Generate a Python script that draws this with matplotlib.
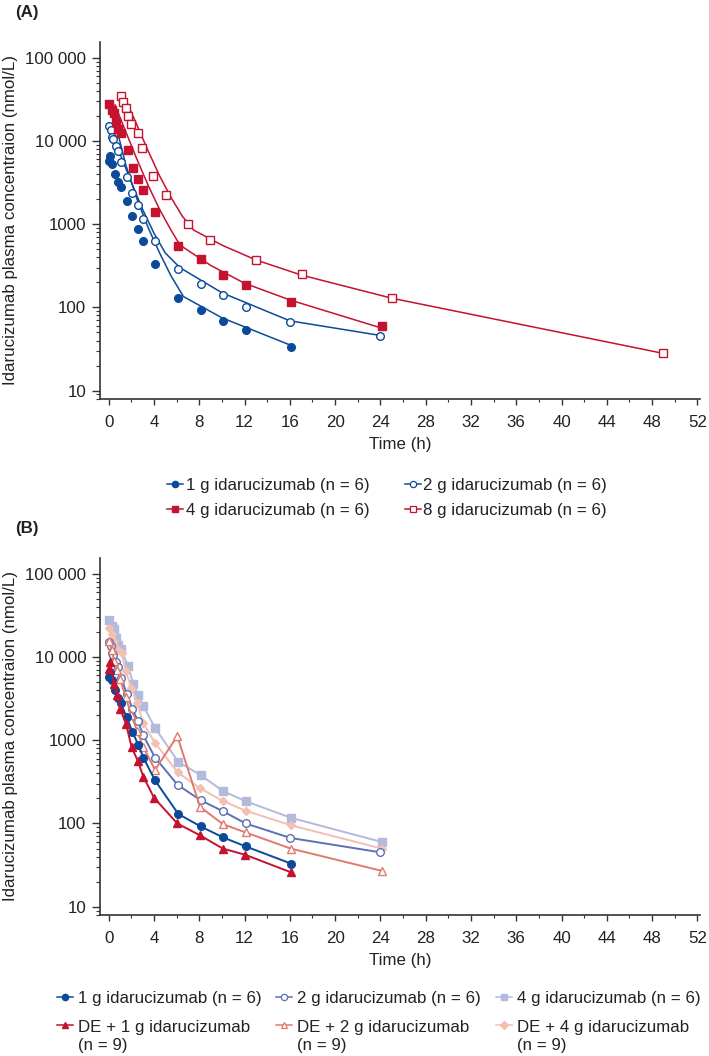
import numpy as np
import matplotlib
matplotlib.use('Agg')
import matplotlib.pyplot as plt
from matplotlib.ticker import LogLocator, FixedLocator, MultipleLocator, NullFormatter
from matplotlib.legend_handler import HandlerLine2D

plt.rcParams['font.family'] = ['Liberation Sans', 'DejaVu Sans']
plt.rcParams['font.size'] = 12.2

DARK = '#0b4a9a'
RED = '#c41230'
TXT = '#222222'

# observed means (nmol/L), panel A and non-DE groups of panel B
t1 = [0.05, 0.12, 0.3, 0.56, 0.8, 1.06, 1.59, 2.09, 2.62, 3.06, 4.09, 6.15, 8.13, 10.1, 12.1, 16.1]
c1 = [5700, 6600, 5300, 4000, 3240, 2770, 1900, 1260, 880, 620, 330, 130, 92, 68, 53, 33]

t2 = [0.05, 0.17, 0.26, 0.35, 0.62, 0.8, 1.09, 1.59, 2.09, 2.56, 3.06, 4.09, 6.1, 8.13, 10.1, 12.1, 16.05, 24.0]
c2 = [15200, 13500, 11200, 10500, 8700, 7600, 5660, 3640, 2400, 1710, 1140, 620, 290, 190, 140, 100, 67, 45]

t4 = [0.05, 0.26, 0.47, 0.62, 0.85, 1.06, 1.73, 2.17, 2.62, 3.06, 4.09, 6.15, 8.13, 10.1, 12.1, 16.1, 24.1]
c4 = [27800, 23500, 21400, 17000, 13800, 12600, 7700, 4700, 3470, 2580, 1410, 550, 380, 245, 185, 117, 60]

t8 = [1.09, 1.24, 1.53, 1.73, 1.97, 2.56, 2.91, 3.94, 5.03, 7.03, 8.98, 13.04, 17.08, 25.0, 49.0]
c8 = [35000, 29100, 24700, 20000, 16000, 12600, 8300, 3800, 2240, 1000, 645, 372, 250, 129, 28]

# model fitted curves, panel A
f1_t = [0.76, 1.5, 2.5, 3.5, 4.5, 5.5, 6.6, 10.0, 16.1]
f1_c = [13200, 5200, 2000, 900, 450, 240, 135, 75, 35]
f2_t = [0.0, 1.0, 2.0, 3.0, 4.0, 5.0, 6.3, 10.0, 16.0, 24.0]
f2_c = [15000, 7000, 3200, 1500, 780, 450, 300, 150, 69, 46]
f4_t = [0.56, 1.5, 2.5, 3.5, 4.5, 5.5, 6.3, 9.0, 12.0, 16.0, 24.0]
f4_c = [27000, 13000, 6000, 2900, 1500, 850, 560, 320, 195, 123, 57]
f8_t = [1.5, 2.5, 3.5, 4.5, 5.5, 6.5, 7.5, 10.0, 13.0, 17.0, 25.0, 49.0]
f8_c = [31000, 15500, 7500, 3800, 2100, 1250, 850, 560, 372, 245, 129, 28]

# panel B, idarucizumab after dabigatran etexilate (DE)
tde1 = [0.05, 0.11, 0.47, 0.76, 1.0, 1.53, 2.03, 2.56, 3.06, 4.0, 6.06, 8.07, 10.07, 12.07, 16.07]
cde1 = [7200, 8800, 4700, 3500, 2400, 1570, 820, 570, 365, 204, 100, 72, 50, 42, 26]
tde2 = [0.05, 0.25, 0.5, 0.75, 1.0, 1.5, 2.0, 2.5, 3.06, 4.09, 6.06, 8.07, 10.1, 12.1, 16.07, 24.1]
cde2 = [15700, 12000, 9000, 7000, 5500, 3300, 2000, 1300, 830, 440, 1120, 158, 98, 78, 50, 27]
tde4 = [0.05, 0.25, 0.5, 0.75, 1.15, 1.5, 2.0, 2.53, 3.06, 4.09, 6.1, 8.07, 10.1, 12.1, 16.1, 24.1]
cde4 = [22000, 19000, 15500, 12500, 11100, 6800, 4300, 2800, 1590, 930, 410, 265, 186, 142, 95, 50]

xticks = list(range(0, 53, 4))
yticks = [10, 100, 1000, 10000, 100000]
ylabels = ['10', '100', '1000', '10 000', '100 000']


class UpHandler(HandlerLine2D):
    # put the legend symbol on the first line of a two-line label
    def create_artists(self, legend, orig_handle, xdescent, ydescent,
                       width, height, fontsize, trans):
        arts = super().create_artists(legend, orig_handle, xdescent, ydescent,
                                      width, height, fontsize, trans)
        for a in arts:
            a.set_ydata(np.asarray(a.get_ydata()) + 0.66 * fontsize)
        return arts


def style_axis(ax):
    ax.set_yscale('log')
    ax.set_xlim(-0.77, 52.23)
    ax.set_ylim(10 ** 0.90, 10 ** 5.192)
    ax.xaxis.set_major_locator(FixedLocator(xticks))
    ax.xaxis.set_minor_locator(MultipleLocator(2))
    ax.yaxis.set_major_locator(FixedLocator(yticks))
    ax.set_yticklabels(ylabels)
    ax.yaxis.set_minor_locator(LogLocator(base=10, subs=np.arange(2, 10)))
    ax.yaxis.set_minor_formatter(NullFormatter())
    for s in ['top', 'right']:
        ax.spines[s].set_visible(False)
    for s in ['left', 'bottom']:
        ax.spines[s].set_linewidth(1.2)
        ax.spines[s].set_color('#333333')
    ax.tick_params(axis='y', which='major', length=5.8, width=1.0, pad=4, colors='#333333', labelcolor=TXT)
    ax.tick_params(axis='y', which='minor', length=2.9, width=0.8, colors='#333333')
    ax.tick_params(axis='x', which='major', length=4.3, width=1.0, pad=7, colors='#333333', labelcolor=TXT)
    ax.tick_params(axis='x', which='minor', length=2.2, width=0.8, colors='#333333')
    ax.set_xlabel('Time (h)', color=TXT, labelpad=5.5)
    ax.set_ylabel('Idarucizumab plasma concentraion (nmol/L)', color=TXT, labelpad=5)


fig = plt.figure(figsize=(7.09, 10.56), dpi=100)
axA = fig.add_axes([0.1410, 0.6222, 0.8463, 0.3383])
axB = fig.add_axes([0.1410, 0.1335, 0.8463, 0.3383])

# ---- panel A ----
lw = 1.1
axA.plot(f1_t, f1_c, color=DARK, lw=lw)
axA.plot(f2_t, f2_c, color=DARK, lw=lw)
axA.plot(f4_t, f4_c, color=RED, lw=lw)
axA.plot(f8_t, f8_c, color=RED, lw=lw)
axA.plot(t1, c1, ls='none', marker='o', ms=5.5, color=DARK)
axA.plot(t2, c2, ls='none', marker='o', ms=5.5, mfc='white', mec=DARK, mew=1.0)
axA.plot(t4, c4, ls='none', marker='s', ms=5.3, color=RED)
axA.plot(t8, c8, ls='none', marker='s', ms=5.3, mfc='white', mec=RED, mew=1.0)
style_axis(axA)

hA = [
    plt.Line2D([], [], color=DARK, lw=lw, marker='o', ms=4.5),
    plt.Line2D([], [], color=RED, lw=lw, marker='s', ms=4.2),
    plt.Line2D([], [], color=DARK, lw=lw, marker='o', ms=4.5, mfc='white', mew=0.9),
    plt.Line2D([], [], color=RED, lw=lw, marker='s', ms=4.2, mfc='white', mew=0.9),
]
lA = ['1 g idarucizumab (n = 6)', '4 g idarucizumab (n = 6)',
      '2 g idarucizumab (n = 6)', '8 g idarucizumab (n = 6)']
fig.legend(hA, lA, ncol=2, loc='upper left', bbox_to_anchor=(167 / 709, 1 - 478 / 1056),
           frameon=False, borderpad=0, borderaxespad=0, handlelength=0.95,
           handletextpad=0.15, columnspacing=2.1, labelspacing=0.58, labelcolor=TXT)

# ---- panel B ----
C2B = '#5d70b6'
C4B = '#b3badc'
CDE2 = '#e07a6e'
CDE4 = '#f2c0b2'
lwb = 1.4
axB.plot(t4, c4, color=C4B, lw=lwb, marker='s', ms=5.3)
axB.plot(tde4, cde4, color=CDE4, lw=lwb, marker='D', ms=4.5)
axB.plot(t2, c2, color=C2B, lw=lwb, marker='o', ms=5.5, mfc='white', mew=1.0)
axB.plot(tde2, cde2, color=CDE2, lw=lwb, marker='^', ms=6, mfc='white', mew=1.0)
axB.plot(t1, c1, color=DARK, lw=lwb, marker='o', ms=5.5)
axB.plot(tde1, cde1, color=RED, lw=lwb, marker='^', ms=6)
style_axis(axB)

fig.text(15 / 709, 1 - 12 / 1056, '(A)', fontweight='bold', va='center', ha='left', color=TXT)
fig.text(15 / 709, 1 - 528 / 1056, '(B)', fontweight='bold', va='center', ha='left', color=TXT)

hB = [
    plt.Line2D([], [], color=DARK, lw=lw, marker='o', ms=4.5),
    plt.Line2D([], [], color=RED, lw=lw, marker='^', ms=5),
    plt.Line2D([], [], color=C2B, lw=lw, marker='o', ms=4.5, mfc='white', mew=0.9),
    plt.Line2D([], [], color=CDE2, lw=lw, marker='^', ms=5, mfc='white', mew=0.9),
    plt.Line2D([], [], color=C4B, lw=lw, marker='s', ms=4.2),
    plt.Line2D([], [], color=CDE4, lw=lw, marker='D', ms=3.8),
]
lB = ['1 g idarucizumab (n = 6)', 'DE + 1 g idarucizumab\n(n = 9)',
      '2 g idarucizumab (n = 6)', 'DE + 2 g idarucizumab\n(n = 9)',
      '4 g idarucizumab (n = 6)', 'DE + 4 g idarucizumab\n(n = 9)']
hmap = {h: UpHandler() for h in hB[1::2]}
legB = fig.legend(hB, lB, ncol=3, loc='upper left', bbox_to_anchor=(57 / 709, 1 - 991 / 1056),
                  frameon=False, borderpad=0, borderaxespad=0, handlelength=0.95,
                  handletextpad=0.3, columnspacing=0.85, labelspacing=0.8, labelcolor=TXT,
                  handler_map=hmap)
for t in legB.get_texts():
    t.set_linespacing(1.3)

fig.savefig('out.png', dpi=100)
